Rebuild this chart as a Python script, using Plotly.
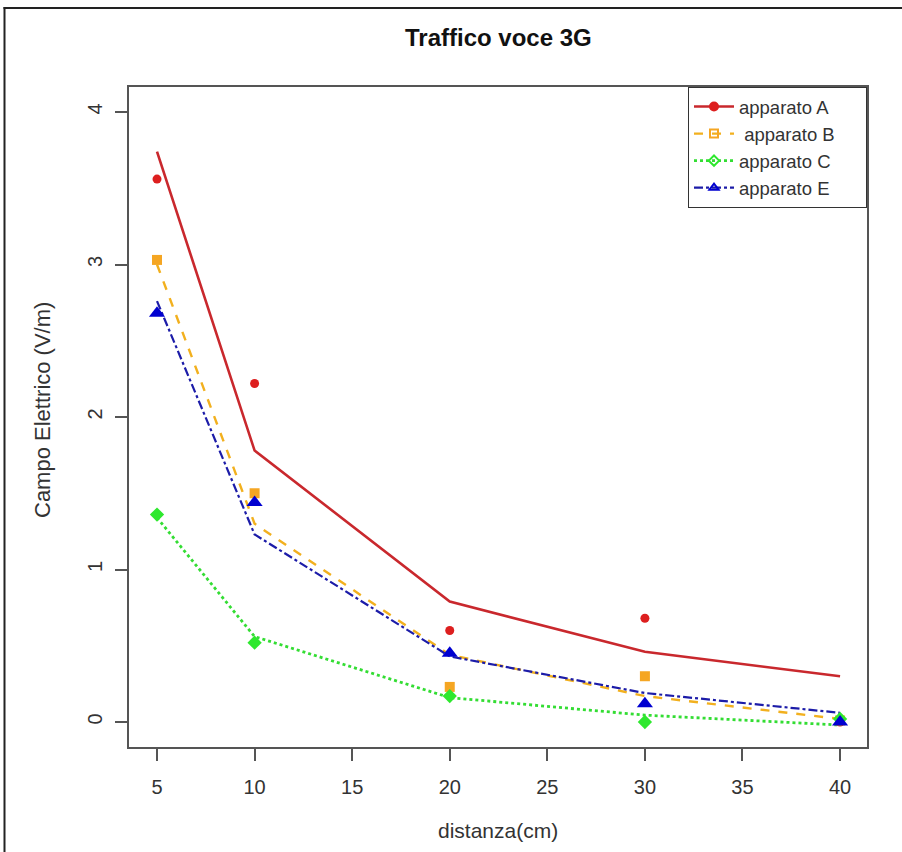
import plotly.graph_objects as go

distanza = [5, 10, 20, 30, 40]

# observed values (markers)
obs_A = [3.56, 2.22, 0.60, 0.68, 0.00]
obs_B = [3.03, 1.50, 0.23, 0.30, 0.01]
obs_C = [1.36, 0.52, 0.17, 0.00, 0.02]
obs_E = [2.68, 1.44, 0.45, 0.12, 0.00]

# fitted curves (lines)
fit_A = [3.74, 1.78, 0.79, 0.46, 0.30]
fit_B = [3.00, 1.30, 0.44, 0.17, 0.02]
fit_C = [1.34, 0.56, 0.16, 0.045, -0.02]
fit_E = [2.76, 1.23, 0.43, 0.19, 0.06]

names = ["apparato A", " apparato B", "apparato C", "apparato E"]
colors_line = ["#c9282d", "#f2b01e", "#33dd33", "#1c1ca8"]
colors_mark = ["#dd1f1f", "#f5a623", "#2ee82e", "#0000d0"]
dashes = ["solid", "dash", "dot", "dashdot"]
widths = [2.6, 2.4, 2.8, 2.2]
symbols = ["circle", "square", "diamond", "triangle-up"]
sizes = [9, 10, 11, 14]
legend_symbols = ["circle", "square-open", "diamond-open", "triangle-up-open"]

obs = [obs_A, obs_B, obs_C, obs_E]
fits = [fit_A, fit_B, fit_C, fit_E]

W, H = 902, 852
L, R, T, B = 129, W - 867, 87, H - 747
PW, PH = W - L - R, H - T - B


def px(xp):
    return (xp - L) / PW


def py(yp):
    return (H - B - yp) / PH


fig = go.Figure()

for i in range(4):
    fig.add_trace(go.Scatter(x=distanza, y=fits[i], mode="lines",
                             line=dict(color=colors_line[i], dash=dashes[i], width=widths[i]),
                             showlegend=False, hoverinfo="skip"))
for i in range(4):
    fig.add_trace(go.Scatter(x=distanza, y=obs[i], mode="markers",
                             marker=dict(color=colors_mark[i], symbol=symbols[i], size=sizes[i]),
                             showlegend=False))
for i in range(4):
    fig.add_trace(go.Scatter(x=[None], y=[None], mode="lines+markers",
                             name=names[i] + "\u00a0" * 5,
                             line=dict(color=colors_line[i], dash=dashes[i], width=widths[i]),
                             marker=dict(color=colors_mark[i], symbol=legend_symbols[i], size=8,
                                         line=dict(color=colors_mark[i], width=2))))

tick_font = dict(family="Liberation Sans, Arial, sans-serif", size=20, color="#333333")

fig.update_layout(
    width=W, height=H,
    margin=dict(l=L, r=R, t=T, b=B),
    paper_bgcolor="white", plot_bgcolor="white",
    font=dict(family="Liberation Sans, Arial, sans-serif", color="#333333"),
    showlegend=True,
    legend=dict(x=1, xanchor="right", y=1, yanchor="top",
                bordercolor="#333333", borderwidth=1, bgcolor="white",
                font=dict(size=18.5, color="#333333"), tracegroupgap=0,
                itemwidth=40),
    xaxis=dict(range=[3.565, 41.38], tickvals=[5, 10, 15, 20, 25, 30, 35, 40],
               showgrid=False, zeroline=False, showline=True, mirror=True,
               linecolor="#555555", linewidth=1.5,
               ticks="outside", ticklen=12, tickcolor="#555555", tickwidth=1.5,
               tickfont=tick_font, ticklabelstandoff=9),
    yaxis=dict(range=[-0.164, 4.164], tickvals=[0, 1, 2, 3, 4],
               showgrid=False, zeroline=False, showline=True, mirror=True,
               linecolor="#555555", linewidth=1.5,
               ticks="outside", ticklen=12, tickcolor="#555555", tickwidth=1.5,
               tickfont=tick_font, tickangle=-90, ticklabelstandoff=5),
    annotations=[
        dict(text="<b>Traffico voce 3G</b>", xref="paper", yref="paper",
             x=0.5, y=py(37), xanchor="center", yanchor="middle",
             showarrow=False, font=dict(size=24, color="#111111")),
        dict(text="distanza(cm)", xref="paper", yref="paper",
             x=0.5, y=py(830), xanchor="center", yanchor="middle",
             showarrow=False, font=dict(size=21, color="#333333")),
        dict(text="Campo Elettrico (V/m)", xref="paper", yref="paper",
             x=px(42), y=py(410), xanchor="center", yanchor="middle",
             textangle=-90, showarrow=False, font=dict(size=22, color="#333333")),
    ],
    shapes=[
        dict(type="line", xref="paper", yref="paper",
             x0=px(4.5), x1=px(4.5), y0=py(852), y1=py(7),
             line=dict(color="#222222", width=2), layer="above"),
        dict(type="line", xref="paper", yref="paper",
             x0=px(3.5), x1=px(902), y0=py(8), y1=py(8),
             line=dict(color="#222222", width=2), layer="above"),
    ],
)

fig.write_html("out.html", config={"displayModeBar": False},
               post_script="document.body.style.margin='0';document.body.style.overflow='hidden';")
